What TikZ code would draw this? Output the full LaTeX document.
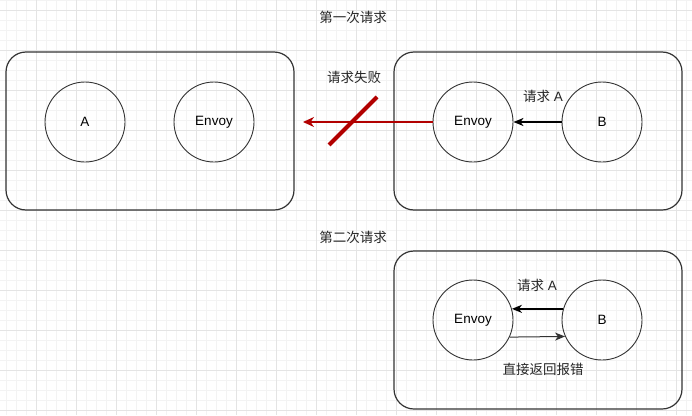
\documentclass[tikz,border=0pt]{standalone}
\usepackage{fontspec}
\setmainfont{Liberation Sans}
\newfontfamily\cjk{Noto Sans CJK SC}
\usetikzlibrary{arrows.meta}
\definecolor{gridminor}{HTML}{F3F3F3}
\definecolor{gridmajor}{HTML}{E4E4E4}
\definecolor{strokec}{HTML}{333333}
\definecolor{failred}{HTML}{B20000}
\tikzset{
  box/.style={draw=strokec, line width=1.2pt, rounded corners=20pt, minimum width=288pt, minimum height=158pt, inner sep=0pt},
  circ/.style={draw=strokec, line width=0.9pt, circle, minimum size=80pt, inner sep=0pt, font=\fontsize{13.5}{16}\selectfont},
  lbl/.style={font=\fontsize{13.5}{16}\selectfont, inner sep=0pt, text=black!85},
  blkarrow/.style={draw=black, line width=1.8pt, -{Stealth[length=10pt,width=8pt,inset=3pt]}},
  thinarrow/.style={draw=strokec, line width=1pt, -{Stealth[length=10pt,width=8pt,inset=3pt]}},
  redarrow/.style={draw=failred, line width=1.6pt, -{Stealth[length=11pt,width=10pt,inset=3.5pt]}},
  slash/.style={draw=failred, line width=4pt},
}
\begin{document}
\begin{tikzpicture}[x=1pt,y=-1pt]
\useasboundingbox (0,0) rectangle (692,415);
\fill[white] (0,0) rectangle (692,415);
% grid
\foreach \gx in {6,16,...,686} \draw[gridminor, line width=0.6pt] (\gx,0) -- (\gx,415);
\foreach \gy in {0,10,...,410} \draw[gridminor, line width=0.6pt] (0,\gy) -- (692,\gy);
\foreach \gx in {36,76,...,676} \draw[gridmajor, line width=0.8pt] (\gx,0) -- (\gx,415);
\foreach \gy in {10,50,...,410} \draw[gridmajor, line width=0.8pt] (0,\gy) -- (692,\gy);

% titles
\node[lbl] (t1) at (353,17) {\cjk 第一次请求};
\node[lbl] (t2) at (353,237) {\cjk 第二次请求};

% containers
\node[box] (box1) at (150,131) {};
\node[box] (box2) at (538,131) {};
\node[box] (box3) at (538,330) {};

% circles
\node[circ] (a) at (85,122) {A};
\node[circ] (env1) at (214,122) {Envoy};
\node[circ] (env2) at (473,122) {Envoy};
\node[circ] (b1) at (602,122) {B};
\node[circ] (env3) at (473,320) {Envoy};
\node[circ] (b2) at (602,320) {B};

% first request
\coordinate (failend) at (303,122);
\draw[redarrow] (env2.west) -- (failend);
\coordinate (s1) at (377,97);
\coordinate (s2) at (329,145);
\draw[slash] (s1) -- (s2);
\node[lbl] (fail) at (354,77) {\cjk 请求失败};
\draw[blkarrow] (b1.west) -- (env2.east);
\node[lbl] (req1) at (543,96) {{\cjk 请求} A};

% second request
\draw[blkarrow] (b2.164) -- (env3.16);
\node[lbl] (req2) at (537,285) {{\cjk 请求} A};
\draw[thinarrow] (env3.-25) -- (b2.204);
\node[lbl] (err) at (543,369) {\cjk 直接返回报错};
\end{tikzpicture}
\end{document}
